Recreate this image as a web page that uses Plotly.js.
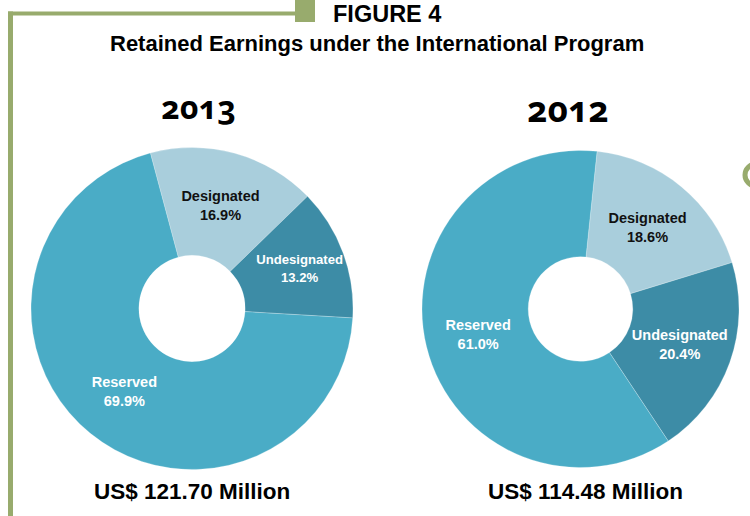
<!DOCTYPE html>
<html>
<head>
<meta charset="utf-8">
<script src="https://cdn.plot.ly/plotly-3.0.1.min.js"></script>
<style>
  html, body { margin: 0; padding: 0; background: #fff; }
  #chart { width: 750px; height: 516px; }
  .annotation[data-index="2"] text.annotation-text,
  .annotation[data-index="3"] text.annotation-text { font-variant-numeric: oldstyle-nums; font-feature-settings: "onum" 1; }
</style>
</head>
<body>
<div id="chart"></div>
<script>
// ---- data ----
const categories = ['Designated', 'Undesignated', 'Reserved'];
const values2013 = [16.9, 13.2, 69.9];
const values2012 = [18.6, 20.4, 61.0];
const years = ['2013', '2012'];
const totals = ['US$ 121.70 Million', 'US$ 114.48 Million'];
const figureLabel = 'FIGURE 4';
const chartTitle = 'Retained Earnings under the International Program';

// ---- styling ----
const sliceColors = ['#A9CEDC', '#3D8CA6', '#4AACC6'];
const textColors = ['#111111', '#FFFFFF', '#FFFFFF'];
const green = '#98AB6D';
const W = 750, H = 516;
const px = x => x / W;
const py = y => 1 - y / H;

function pieTrace(vals, dom, rot) {
  return {
    type: 'pie',
    labels: categories,
    values: vals,
    hole: 0.33,
    sort: false,
    direction: 'clockwise',
    rotation: rot,
    domain: dom,
    marker: { colors: sliceColors, line: { color: 'rgba(255,255,255,0.4)', width: 0.6 } },
    texttemplate: '%{label}<br>%{percent:.1%}',
    textposition: 'inside',
    insidetextorientation: 'horizontal',
    textfont: { family: 'Liberation Sans, Arial, sans-serif', size: 14.5, weight: 'bold', color: textColors },
    hoverinfo: 'label+percent',
    showlegend: false
  };
}

const traces = [
  pieTrace(values2013, { x: [px(31), px(353)], y: [py(470), py(147)] }, -15),
  pieTrace(values2012, { x: [px(422), px(739)], y: [py(467.5), py(150.5)] }, 6)
];

const titleFont = { family: 'Liberation Sans, Arial, sans-serif', color: '#000', weight: 'bold' };
const yearFont = { family: 'Noto Sans, Lato, sans-serif', color: '#000', weight: 'bold' };

const annotations = [
  { text: figureLabel, x: px(387), y: py(13.5), xanchor: 'center', yanchor: 'middle', font: Object.assign({}, titleFont, { size: 23.5 }) },
  { text: chartTitle, x: px(376.5), y: py(43.5), xanchor: 'center', yanchor: 'middle', font: Object.assign({}, titleFont, { size: 22 }) },
  { text: years[0], x: px(199), y: py(106), xanchor: 'center', yanchor: 'middle', font: Object.assign({}, yearFont, { size: 32 }) },
  { text: years[1], x: px(567.5), y: py(109), xanchor: 'center', yanchor: 'middle', font: Object.assign({}, yearFont, { size: 35 }) },
  { text: totals[0], x: px(191.5), y: py(491), xanchor: 'center', yanchor: 'middle', font: Object.assign({}, titleFont, { size: 22.5 }) },
  { text: totals[1], x: px(585), y: py(491), xanchor: 'center', yanchor: 'middle', font: Object.assign({}, titleFont, { size: 22.5 }) }
].map(a => Object.assign({ xref: 'paper', yref: 'paper', showarrow: false }, a));

const shapes = [
  { type: 'line', x0: px(10.5), x1: px(10.5), y0: py(11.5), y1: py(520), line: { color: green, width: 5 } },
  { type: 'line', x0: px(8), x1: px(296), y0: py(13.5), y1: py(13.5), line: { color: green, width: 4 } },
  { type: 'rect', x0: px(295), x1: px(315), y0: py(22), y1: py(0), fillcolor: green, line: { width: 0 } },
  { type: 'circle', x0: px(745), x1: px(767), y0: py(186), y1: py(164), line: { color: green, width: 5 }, fillcolor: 'rgba(0,0,0,0)' }
].map(s => Object.assign({ xref: 'paper', yref: 'paper', layer: 'above' }, s));

const layout = {
  width: W, height: H,
  margin: { l: 0, r: 0, t: 0, b: 0 },
  paper_bgcolor: '#fff',
  plot_bgcolor: '#fff',
  showlegend: false,
  annotations: annotations,
  shapes: shapes
};

Plotly.newPlot('chart', traces, layout, { displayModeBar: false, staticPlot: true });
</script>
</body>
</html>
